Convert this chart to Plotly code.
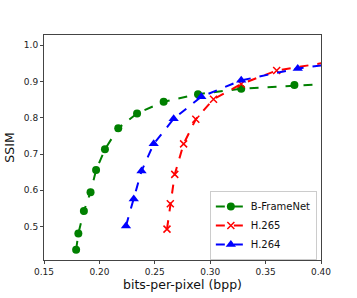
import plotly.graph_objects as go

bframe_x = [0.179, 0.181, 0.186, 0.192, 0.197, 0.205, 0.217, 0.234, 0.258, 0.289, 0.328, 0.376, 0.43]
bframe_y = [0.436, 0.481, 0.543, 0.595, 0.656, 0.713, 0.771, 0.812, 0.844, 0.865, 0.880, 0.890, 0.897]

h265_x = [0.261, 0.264, 0.268, 0.276, 0.287, 0.303, 0.328, 0.360, 0.43]
h265_y = [0.493, 0.563, 0.644, 0.728, 0.796, 0.851, 0.893, 0.930, 0.965]

h264_x = [0.224, 0.231, 0.238, 0.249, 0.267, 0.292, 0.328, 0.379, 0.43]
h264_y = [0.502, 0.576, 0.653, 0.728, 0.797, 0.858, 0.903, 0.936, 0.955]

x_ticks = [0.15, 0.20, 0.25, 0.30, 0.35, 0.40]
y_ticks = [0.5, 0.6, 0.7, 0.8, 0.9, 1.0]

fig = go.Figure()
fig.add_trace(go.Scatter(x=bframe_x, y=bframe_y, name="B-FrameNet", mode="lines+markers",
                         line=dict(color="#008000", width=2, dash="dash"),
                         marker=dict(symbol="circle", size=8, color="#008000")))
fig.add_trace(go.Scatter(x=h265_x, y=h265_y, name="H.265", mode="lines+markers",
                         line=dict(color="#ff0000", width=2, dash="dash"),
                         marker=dict(symbol="x-thin", size=7, color="#ff0000",
                                     line=dict(color="#ff0000", width=1.5))))
fig.add_trace(go.Scatter(x=h264_x, y=h264_y, name="H.264", mode="lines+markers",
                         line=dict(color="#0000ff", width=2, dash="dash"),
                         marker=dict(symbol="triangle-up", size=9, color="#0000ff")))

axis_common = dict(showgrid=False, zeroline=False, showline=True, linecolor="#444444",
                   linewidth=1, mirror=True, ticks="outside", ticklen=3, tickcolor="#444444",
                   tickfont=dict(size=9, color="#222222"), automargin=False)

fig.update_layout(
    width=357, height=298,
    margin=dict(l=44, r=36, t=35, b=38),
    paper_bgcolor="white", plot_bgcolor="white",
    font=dict(family="DejaVu Sans", color="#111111"),
    xaxis=dict(range=[0.15, 0.40], tickvals=x_ticks, ticktext=[f"{v:.2f}" for v in x_ticks],
               title=dict(text="bits-per-pixel (bpp)", font=dict(size=12.5), standoff=4), **axis_common),
    yaxis=dict(range=[0.408, 1.028], tickvals=y_ticks, ticktext=[f"{v:.1f}" for v in y_ticks],
               title=dict(text="SSIM", font=dict(size=12.5), standoff=6), **axis_common),
    legend=dict(x=0.985, y=0.0, xanchor="right", yanchor="bottom",
                bgcolor="white", bordercolor="#cccccc", borderwidth=1,
                font=dict(size=10), tracegroupgap=0, itemwidth=30),
    showlegend=True,
)

fig.write_html("out.html", config={"displayModeBar": False},
               post_script="document.body.style.margin='0px';document.body.style.padding='0px';document.body.style.overflow='hidden';")
